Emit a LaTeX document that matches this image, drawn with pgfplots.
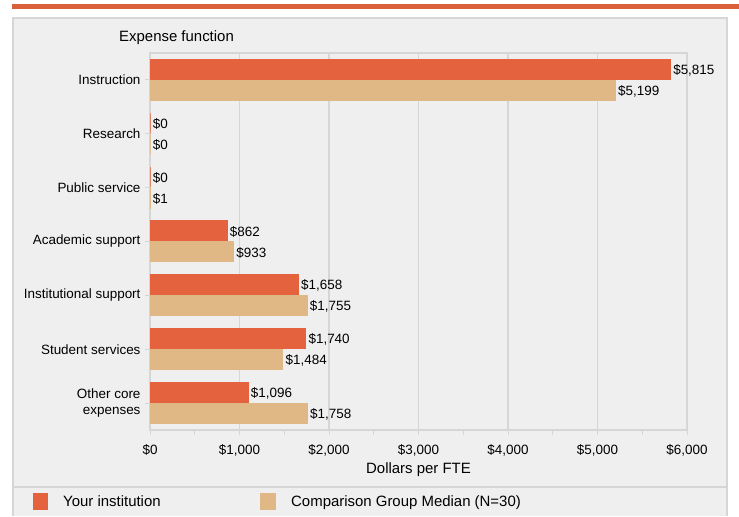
\documentclass[border=0pt]{standalone}
\usepackage{pgfplots}
\pgfplotsset{compat=1.18}
\usepackage{fontspec}
\setmainfont{Liberation Sans}
\definecolor{inst}{HTML}{E5623E}
\definecolor{comp}{HTML}{DFB886}
\definecolor{panel}{HTML}{EFEFEF}
\definecolor{edge}{HTML}{D6D6D6}
\definecolor{band}{HTML}{D9603B}
\begin{document}
\begin{tikzpicture}[x=1bp,y=1bp]
\fill[white] (0,0) rectangle (739,516);
\fill[band] (12,507) rectangle (739,512);
\fill[panel] (13,0) rectangle (727,498);
\draw[edge,line width=1.5bp] (13,0) -- (13,498) -- (727,498) -- (727,0);
\draw[edge,line width=2bp] (13,29) -- (727,29);
\node[anchor=base west,inner sep=0,font=\fontsize{15}{18}\selectfont] at (119,474) {Expense function};
\begin{axis}[
  at={(150bp,86bp)}, anchor=south west,
  scale only axis, width=537bp, height=377bp,
  xmin=0, xmax=6000, ymin=-0.5, ymax=6.5,
  xbar, bar width=20bp,
  axis line style={edge,line width=1.5bp},
  xmajorgrids, major grid style={edge,line width=1.5bp},
  xtick={0,1000,...,6000},
  minor xtick={500,1500,...,5500},
  xtick pos=bottom, ytick pos=left,
  tick align=outside,
  major tick length=5bp, minor tick length=5bp,
  every tick/.style={edge,line width=1bp},
  xticklabel={\$\pgfmathprintnumber{\tick}},
  /pgf/number format/.cd, fixed, precision=0, 1000 sep={,}, assume math mode=true,
  /pgfplots/.cd,
  xticklabel style={font=\fontsize{13.5}{16}\selectfont, yshift=-6bp},
  ytick={0,...,6},
  yticklabels={{Other core\\expenses},Student services,Institutional support,Academic support,Public service,Research,Instruction},
  yticklabel style={font=\fontsize{13.5}{16}\selectfont, align=right, xshift=-1bp},
  xlabel={Dollars per FTE},
  xlabel style={font=\fontsize{15}{18}\selectfont, yshift=0bp},
  nodes near coords={\$\pgfmathprintnumber{\pgfplotspointmeta}},
  nodes near coords style={font=\fontsize{13.5}{16}\selectfont, anchor=west, xshift=-1bp, yshift=-1bp, text=black},
  point meta=x,
]
\addplot[fill=inst, draw=inst, line width=1bp, bar shift=10.5bp] coordinates {
(5815,6) (0,5) (0,4) (862,3) (1658,2) (1740,1) (1096,0)};
\addplot[fill=comp, draw=comp, line width=1bp, bar shift=-10.5bp] coordinates {
(5199,6) (0,5) (1,4) (933,3) (1755,2) (1484,1) (1758,0)};
\end{axis}
\fill[inst] (33,6) rectangle (48,23);
\node[anchor=base west,inner sep=0,font=\fontsize{15}{18}\selectfont] at (63,9) {Your institution};
\fill[comp] (260,6) rectangle (276,23);
\node[anchor=base west,inner sep=0,font=\fontsize{15}{18}\selectfont] at (291,9) {Comparison Group Median (N=30)};
\end{tikzpicture}
\end{document}
